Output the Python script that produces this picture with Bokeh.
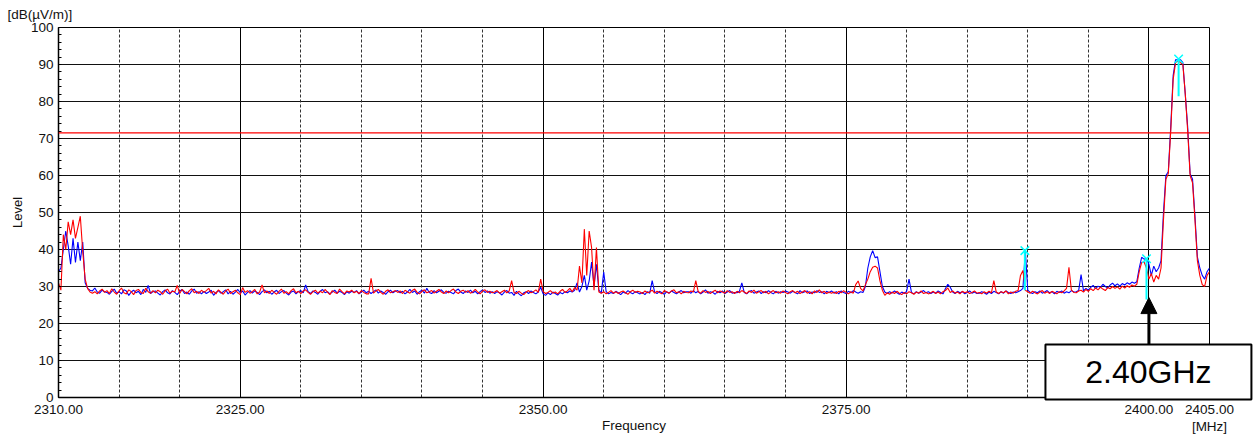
import numpy as np
from bokeh.plotting import figure
from bokeh.models import (Range1d, FixedTicker, SingleIntervalTicker, Grid, Label,
                          Arrow, NormalHead, Span)
from bokeh.core.properties import value
from bokeh.embed import file_html
from bokeh.resources import INLINE

# ---------------- data ----------------
FREQ_START = 2310.0   # MHz, first sweep point
FREQ_STEP = 0.2       # MHz, sweep step

red_level = [
    31.0, 29.0, 44.0, 40.0, 47.5, 44.0, 48.0, 43.0, 46.0, 49.0, 39.5, 32.0, 29.5, 28.5, 28.2, 28.6, 28.0, 28.8, 29.3, 28.4,
    28.9, 28.1, 29.4, 28.5, 27.9, 28.8, 29.6, 28.3, 28.0, 29.1, 28.6, 27.8, 28.9, 29.2, 28.4, 28.1, 29.5, 28.6, 28.2, 28.9,
    28.3, 29.0, 28.6, 27.9, 28.8, 29.3, 28.2, 28.7, 28.5, 30.3, 28.1, 29.2, 28.6, 28.0, 28.9, 29.4, 28.3, 28.7, 28.1, 29.0,
    28.4, 28.9, 29.5, 28.2, 28.7, 28.0, 29.1, 28.5, 27.9, 28.8, 29.3, 28.1, 28.6, 29.0, 28.3, 27.8, 29.7, 28.4, 28.9, 28.2,
    28.6, 29.2, 28.0, 28.5, 30.4, 28.3, 28.8, 28.1, 29.0, 28.4, 27.9, 28.7, 29.3, 28.2, 28.6, 28.0, 28.9, 29.4, 28.3, 28.7,
    28.1, 28.8, 29.1, 28.4, 27.9, 28.6, 29.0, 28.2, 28.7, 28.3, 29.2, 28.5, 27.8, 28.9, 28.4, 28.1, 29.3, 28.6, 28.0, 28.8,
    28.5, 29.0, 28.3, 28.7, 28.1, 28.9, 28.4, 28.0, 28.0, 32.2, 28.2, 28.8, 29.2, 28.4, 27.9, 28.7, 29.1, 28.3, 28.6, 28.9,
    28.4, 28.8, 28.1, 29.0, 28.6, 28.2, 28.9, 29.3, 28.4, 28.0, 28.7, 29.1, 28.3, 28.6, 28.9, 28.2, 28.7, 29.2, 28.5, 28.1,
    28.8, 28.3, 28.9, 29.3, 28.5, 28.1, 28.7, 29.0, 28.4, 28.9, 28.2, 28.6, 29.2, 28.5, 28.0, 28.8, 29.1, 28.4, 28.7, 28.3,
    28.5, 28.9, 28.2, 28.6, 29.0, 28.3, 28.8, 31.6, 28.4, 28.1, 28.7, 28.2, 27.8, 28.5, 28.9, 28.3, 28.6, 29.1, 28.4, 32.0,
    28.6, 28.1, 28.4, 28.9, 28.2, 28.5, 28.0, 28.7, 29.2, 28.4, 28.8, 29.5, 28.6, 29.7, 29.0, 35.5, 31.0, 45.5, 33.0, 45.0,
    40.5, 29.0, 40.5, 28.5, 28.2, 28.6, 28.0, 28.4, 28.9, 28.2, 28.6, 28.1, 28.5, 28.8, 28.3, 27.9, 28.6, 29.0, 28.4, 28.7,
    28.5, 28.1, 28.8, 28.3, 28.6, 29.0, 28.2, 28.7, 28.4, 28.0, 28.9, 28.5, 28.2, 28.8, 29.1, 28.3, 28.6, 28.0, 28.7, 28.4,
    28.3, 28.8, 28.5, 31.6, 28.6, 28.2, 28.9, 28.4, 28.7, 28.1, 28.6, 29.0, 28.3, 28.8, 28.5, 28.2, 28.9, 28.4, 28.6, 28.1,
    28.7, 28.3, 28.9, 28.5, 28.1, 28.8, 28.4, 29.0, 28.2, 28.6, 28.9, 28.3, 28.7, 28.0, 28.5, 28.9, 28.3, 28.6, 28.2, 28.8,
    28.4, 28.0, 28.6, 28.9, 28.3, 28.7, 28.1, 28.5, 28.9, 28.2, 28.6, 28.0, 28.8, 28.4, 29.1, 28.3, 28.7, 28.1, 28.5, 28.2,
    28.5, 28.1, 28.7, 28.3, 28.9, 28.4, 28.0, 28.6, 28.2, 30.5, 31.5, 29.5, 28.8, 30.5, 32.0, 34.0, 35.2, 35.5, 35.0, 31.5,
    29.0, 27.6, 28.3, 27.9, 28.5, 28.1, 28.7, 28.2, 27.8, 28.4, 28.0, 28.6, 28.3, 27.9, 28.5, 28.2, 28.8, 28.1, 28.4, 28.0,
    28.3, 28.7, 28.1, 28.5, 28.0, 28.6, 28.9, 29.6, 28.4, 28.8, 28.2, 28.5, 28.0, 28.7, 28.3, 28.6, 28.1, 28.4, 28.8, 28.2,
    28.4, 28.0, 28.6, 28.2, 28.7, 28.3, 31.6, 28.5, 28.1, 28.6, 28.3, 28.8, 28.0, 28.5, 28.2, 28.7, 28.9, 33.0, 34.3, 29.0,
    28.6, 28.2, 28.7, 28.3, 28.0, 28.5, 28.9, 28.2, 28.6, 28.1, 28.7, 28.4, 28.0, 28.6, 28.3, 28.8, 29.5, 35.2, 29.0, 28.4,
    28.3, 28.8, 29.0, 28.5, 29.2, 28.7, 29.4, 28.9, 29.6, 29.1, 29.8, 29.3, 28.9, 29.7, 29.4, 30.0, 29.5, 29.9, 29.3, 30.1,
    29.6, 30.2, 29.8, 30.4, 30.1, 30.6, 34.0, 36.5, 36.6, 35.0, 32.0, 33.5, 31.2, 33.0, 32.0, 35.0, 48.0, 59.0, 60.5, 72.0,
    86.0, 90.5, 91.0, 90.5, 90.0, 82.0, 72.0, 60.0, 58.0, 48.0, 37.0, 33.0, 30.5, 30.0, 33.0, 34.0,
]

blue_level = [
    34.0, 35.0, 40.0, 45.0, 41.0, 36.0, 43.0, 36.5, 42.0, 37.0, 42.0, 31.0, 29.5, 29.0, 28.8, 29.6, 28.5, 28.2, 29.0, 28.6,
    28.4, 27.9, 28.7, 29.3, 28.2, 28.6, 28.0, 29.1, 28.8, 27.6, 28.5, 29.0, 28.3, 28.7, 27.8, 29.2, 28.4, 30.3, 28.1, 28.6,
    28.8, 28.2, 27.7, 28.6, 29.1, 28.3, 28.0, 28.9, 28.4, 27.8, 28.7, 29.2, 28.1, 28.5, 27.9, 28.8, 29.3, 28.2, 28.6, 28.0,
    28.7, 28.1, 28.5, 29.0, 27.6, 28.4, 28.9, 28.2, 28.6, 29.1, 28.0, 28.7, 27.9, 28.5, 29.2, 28.3, 28.8, 27.7, 28.4, 28.9,
    28.2, 28.8, 28.4, 27.8, 28.6, 29.1, 28.3, 28.7, 27.9, 28.5, 29.0, 28.1, 28.6, 28.9, 28.2, 27.7, 28.5, 28.8, 28.0, 28.6,
    28.9, 28.3, 30.4, 28.6, 28.1, 28.8, 28.4, 27.9, 28.7, 29.2, 28.3, 28.6, 28.0, 28.5, 29.0, 28.2, 28.7, 28.4, 27.8, 28.6,
    28.2, 28.7, 28.4, 28.9, 28.0, 28.5, 29.0, 28.3, 28.7, 28.1, 28.6, 29.1, 28.2, 28.8, 28.4, 27.9, 28.6, 29.0, 28.3, 28.7,
    28.9, 28.3, 28.7, 28.0, 28.5, 29.2, 28.4, 28.8, 27.9, 28.6, 29.0, 28.2, 29.5, 28.4, 28.1, 28.9, 28.3, 28.7, 29.1, 28.4,
    28.2, 28.7, 28.4, 28.0, 28.9, 29.3, 28.5, 28.1, 28.8, 28.4, 29.0, 28.3, 28.7, 28.0, 28.6, 29.1, 28.4, 28.8, 28.2, 28.6,
    28.1, 28.6, 28.3, 27.7, 28.5, 28.9, 28.2, 28.4, 27.6, 28.7, 28.0, 27.5, 28.3, 28.6, 28.1, 28.8, 28.4, 28.0, 28.5, 29.8,
    28.0, 27.6, 28.3, 27.8, 28.5, 28.1, 27.7, 28.4, 28.0, 28.6, 28.3, 28.8, 28.5, 29.0, 31.0, 28.5, 30.0, 33.0, 29.0, 31.5,
    36.6, 30.0, 36.0, 29.0, 28.2, 33.9, 28.6, 28.0, 28.4, 28.1, 28.7, 28.3, 27.8, 28.5, 28.2, 28.9, 28.4, 28.0, 28.6, 28.3,
    28.0, 28.4, 27.8, 28.6, 28.2, 31.6, 28.5, 28.1, 28.7, 28.3, 27.9, 28.6, 28.2, 28.8, 28.4, 28.0, 28.5, 28.9, 28.3, 28.6,
    28.6, 28.2, 28.9, 28.3, 28.7, 28.0, 28.5, 29.1, 28.2, 28.6, 28.4, 27.9, 28.7, 28.3, 28.8, 28.1, 28.5, 28.9, 28.2, 28.4,
    28.3, 28.7, 31.0, 28.4, 28.0, 28.6, 28.9, 28.2, 28.5, 28.8, 28.1, 28.6, 28.3, 28.9, 28.4, 28.0, 28.7, 28.2, 28.6, 28.4,
    28.8, 28.5, 28.2, 28.7, 28.4, 28.0, 28.9, 28.3, 28.6, 28.8, 28.1, 28.5, 28.3, 28.9, 28.4, 28.6, 28.0, 28.7, 28.3, 28.8,
    28.2, 28.6, 28.0, 28.8, 28.4, 28.1, 28.7, 28.3, 28.9, 28.5, 28.2, 28.6, 28.4, 30.0, 35.0, 38.0, 39.7, 37.8, 38.0, 34.0,
    30.0, 28.5, 28.1, 28.6, 28.2, 28.8, 28.3, 27.9, 28.5, 28.1, 28.7, 32.0, 28.4, 28.0, 28.6, 28.2, 28.5, 28.9, 28.3, 28.6,
    28.1, 28.5, 28.2, 28.8, 28.4, 28.0, 29.4, 30.6, 29.8, 28.5, 28.1, 28.7, 28.3, 28.6, 28.0, 28.4, 28.8, 28.2, 28.5, 28.1,
    28.2, 28.6, 28.3, 27.9, 28.5, 28.1, 28.7, 28.4, 28.0, 28.6, 28.2, 28.8, 28.4, 28.1, 28.5, 28.3, 28.6, 28.9, 29.5, 39.7,
    29.0, 28.4, 28.1, 28.6, 28.3, 28.8, 28.2, 28.5, 28.9, 28.3, 28.6, 28.0, 28.7, 28.4, 28.8, 28.2, 28.6, 28.3, 28.9, 28.5,
    28.6, 28.9, 33.2, 28.8, 29.5, 29.0, 29.8, 30.3, 29.4, 30.1, 29.7, 30.6, 30.0, 29.6, 30.4, 30.9, 30.2, 30.7, 30.1, 30.8,
    30.4, 31.0, 30.6, 31.2, 30.9, 31.3, 35.0, 37.9, 37.4, 37.5, 36.0, 33.0, 35.5, 34.0, 35.0, 37.0, 50.0, 60.0, 61.0, 73.0,
    87.0, 91.3, 91.3, 91.3, 90.5, 82.0, 73.0, 60.5, 59.0, 49.0, 38.0, 35.0, 33.0, 32.0, 34.0, 35.0,
]

limit_level = 71.5

marker_freq = [2402.45, 2389.76, 2399.8]
marker_level = [91.5, 39.7, 37.5]
marker_foot = [81.4, 29.0, 26.5]

x_tick_values = [2310, 2325, 2350, 2375, 2400, 2405]
x_tick_labels = ["2310.00", "2325.00", "2350.00", "2375.00", "2400.00", "2405.00"]
x_solid_grid = [2325, 2350, 2375, 2400]
x_dash_grid = [2315, 2320, 2330, 2335, 2340, 2345, 2355, 2360, 2365,
               2370, 2380, 2385, 2390, 2395]

y_unit_text = "[dB(\u00b5V/m)]"
x_unit_text = "[MHz]"
x_title = "Frequency"
y_title = "Level"
callout_text = "2.40GHz"
callout_freq = 2400.0

# callout box extent (annotation placement, in axis units)
callout_box = dict(left=2391.46, right=2408.46, bottom=-0.54, top=14.32)
callout_text_pos = (2399.96, 6.9)
arrow_span = (14.32, 27.0)
unit_x_pos = (2405.0, -7.84)
unit_y_pos = (2305.79, 103.5)

# ---------------- figure ----------------
n = min(len(red_level), len(blue_level))
freq = FREQ_START + FREQ_STEP * np.arange(n)

FONT = "Liberation Sans"
TXT = "#111111"

p = figure(width=1254, height=439, output_backend="svg", toolbar_location=None,
           x_range=Range1d(2310, 2405), y_range=Range1d(0, 100),
           min_border_left=58, min_border_right=45, min_border_top=27,
           min_border_bottom=42)
p.background_fill_color = "white"
p.border_fill_color = "white"
p.outline_line_color = "black"
p.outline_line_width = 1

# axes
p.xaxis.ticker = FixedTicker(ticks=x_tick_values)
p.xaxis.major_label_overrides = {float(t): l for t, l in zip(x_tick_values, x_tick_labels)}
p.yaxis.ticker = SingleIntervalTicker(interval=10, num_minor_ticks=5)
p.xaxis.axis_label = x_title
p.yaxis.axis_label = y_title
for ax in (p.xaxis, p.yaxis):
    ax.axis_line_color = "black"
    ax.axis_line_width = 1.5
    ax.major_tick_in = 0
    ax.major_tick_out = 0
    ax.major_label_text_font = FONT
    ax.major_label_text_font_size = "13.5px"
    ax.major_label_text_color = TXT
    ax.axis_label_text_font = FONT
    ax.axis_label_text_font_style = "normal"
    ax.axis_label_text_color = TXT
p.xaxis.axis_label_text_font_size = "13.5px"
p.yaxis.axis_label_text_font_size = "13px"
p.xaxis.major_label_standoff = 7
p.yaxis.major_label_standoff = 5
p.xaxis.minor_tick_in = 0
p.xaxis.minor_tick_out = 0
p.yaxis.minor_tick_in = 3
p.yaxis.minor_tick_out = 0
p.yaxis.minor_tick_line_color = "black"
p.xaxis.axis_label_standoff = 1
p.yaxis.axis_label_standoff = 3

# grids
p.xgrid.ticker = FixedTicker(ticks=x_solid_grid)
p.xgrid.grid_line_color = "black"
p.xgrid.grid_line_width = 1
p.ygrid.grid_line_color = "#111111"
p.ygrid.grid_line_width = 1
p.add_layout(Grid(dimension=0, ticker=FixedTicker(ticks=x_dash_grid),
                  grid_line_color="#333333", grid_line_width=1,
                  grid_line_dash="3 2"))

# traces
p.line(freq, blue_level[:n], line_color="#0000FF", line_width=1.1)
p.line(freq, red_level[:n], line_color="#FF0000", line_width=1.1)

# limit line
p.add_layout(Span(location=limit_level, dimension="width",
                  line_color="#FF0000", line_width=1.3))

# markers
p.segment(x0=marker_freq, y0=marker_level, x1=marker_freq, y1=marker_foot,
          line_color="#00FFFF", line_width=2)
p.scatter(marker_freq, marker_level, marker="x", size=12,
          line_color="#00FFFF", line_width=1.5)

# callout arrow
p.add_layout(Arrow(end=NormalHead(size=16, fill_color="black", line_color="black"),
                   x_start=callout_freq, y_start=arrow_span[0],
                   x_end=callout_freq, y_end=arrow_span[1],
                   line_color="black", line_width=3))

# callout box + texts reaching outside the frame (overlay level)
p.quad(left=[callout_box["left"]], right=[callout_box["right"]],
       bottom=[callout_box["bottom"]], top=[callout_box["top"]],
       fill_color="white", line_color="black", line_width=2, level="overlay")
p.text(x=[callout_text_pos[0]], y=[callout_text_pos[1]], text=[callout_text],
       text_align="center", text_baseline="middle", text_font=value(FONT),
       text_font_size="32px", text_color="black", level="overlay")
p.text(x=[unit_x_pos[0]], y=[unit_x_pos[1]], text=[x_unit_text],
       text_align="center", text_baseline="middle", text_font=value(FONT),
       text_font_size="13.5px", text_color=TXT, level="overlay")

# y unit label lives in the top border panel (fits inside it)
p.add_layout(Label(x=unit_y_pos[0], y=unit_y_pos[1], text=y_unit_text,
                   text_align="left", text_baseline="middle", text_font=FONT,
                   text_font_size="13.5px", text_color=TXT), "above")

open("out.html", "w").write(file_html(p, INLINE))
